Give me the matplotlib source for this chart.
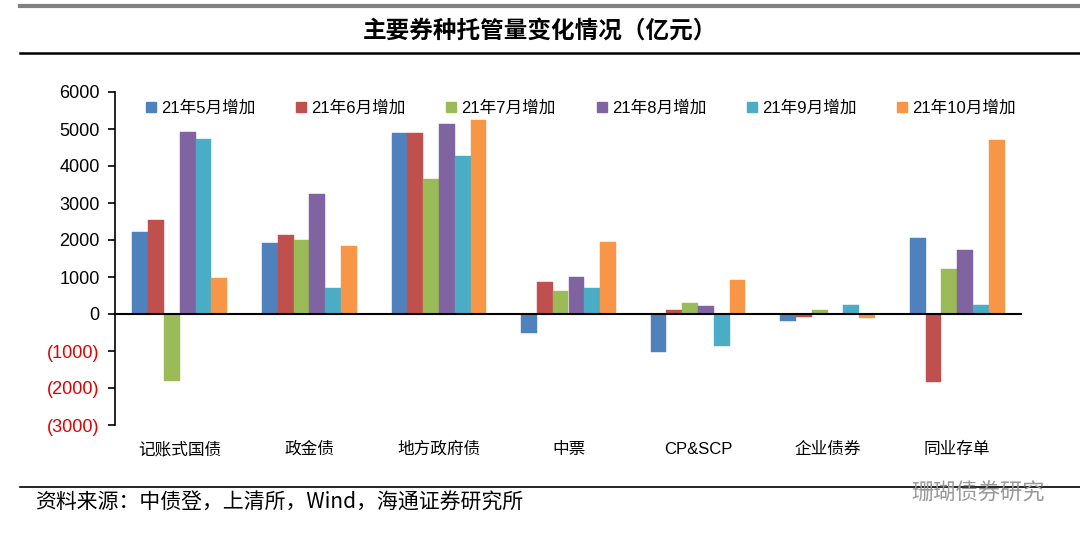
import matplotlib
matplotlib.use("Agg")
import matplotlib.pyplot as plt
from matplotlib.patches import Patch
from matplotlib.lines import Line2D
import numpy as np

plt.rcParams['font.family'] = ['Liberation Sans', 'Noto Sans CJK SC', 'DejaVu Sans']

categories = ["记账式国债", "政金债", "地方政府债", "中票", "CP&SCP", "企业债券", "同业存单"]
series_names = ["21年5月增加", "21年6月增加", "21年7月增加", "21年8月增加", "21年9月增加", "21年10月增加"]
may = [2210, 1920, 4900, -510, -1030, -180, 2050]
jun = [2530, 2140, 4900, 875, 110, -70, -1840]
jul = [-1820, 1990, 3650, 630, 310, 100, 1210]
aug = [4930, 3250, 5130, 1010, 220, 0, 1740]
sep = [4740, 700, 4260, 695, -860, 250, 250]
oct_ = [975, 1850, 5230, 1950, 930, -120, 4710]
series = [may, jun, jul, aug, sep, oct_]
colors = ["#4F81BD", "#C0504D", "#9BBB59", "#8064A2", "#4BACC6", "#F79646"]
yticks = [-3000, -2000, -1000, 0, 1000, 2000, 3000, 4000, 5000, 6000]

title = "主要券种托管量变化情况（亿元）"
source = "资料来源：中债登，上清所，Wind，海通证券研究所"
watermark = "珊瑚债券研究"

fig = plt.figure(figsize=(10.8, 5.42), dpi=100)
ax = fig.add_axes([115/1080, 1-425/542, (1022-115)/1080, (425-92)/542])

x = np.arange(len(categories))
w = 0.122
for i, (vals, c) in enumerate(zip(series, colors)):
    ax.bar(x + (i - 2.5) * w, vals, width=w, color=c, edgecolor=c, linewidth=0.3, zorder=2)

ax.axhline(0, color="black", lw=1.5, zorder=3)
ax.set_xlim(-0.5, len(categories) - 0.5)
ax.set_ylim(-3000, 6000)
ax.set_yticks(yticks)
ax.set_yticklabels([f"({abs(v)})" if v < 0 else f"{v}" for v in yticks], fontsize=13)
for lbl, v in zip(ax.get_yticklabels(), yticks):
    if v < 0:
        lbl.set_color("#E00000")
ax.tick_params(axis="y", direction="out", length=5, width=1.2, pad=6)
ax.set_xticks(x)
ax.set_xticklabels(categories, fontsize=12, family=['Liberation Sans', 'Noto Sans CJK SC'])
ax.tick_params(axis="x", length=0, pad=12)
for s in ["top", "right", "bottom"]:
    ax.spines[s].set_visible(False)
ax.spines["left"].set_linewidth(1.2)

handles = [Patch(facecolor=c, edgecolor=c) for c in colors]
ax.legend(handles, series_names, loc="upper left", bbox_to_anchor=(0.025, 1.0),
          ncol=6, frameon=False, fontsize=12, handlelength=0.6, handleheight=0.6,
          handletextpad=0.3, columnspacing=2.45, borderaxespad=0.1)

# header and footer rules
fig.add_artist(Line2D([20/1080, 1], [1-6/542]*2, color="#808080", lw=3))
fig.add_artist(Line2D([20/1080, 1], [1-53/542]*2, color="black", lw=1.8))
fig.add_artist(Line2D([20/1080, 1], [1-487/542]*2, color="black", lw=1.2))

fig.text(540/1080, 1-31/542, title, ha="center", va="center", fontsize=17,
         fontweight="bold", family=['Noto Sans CJK SC'])
fig.text(35/1080, 1-503/542, source, ha="left", va="center", fontsize=15,
         family=['Noto Sans CJK SC', 'Liberation Sans'])
fig.text(1045/1080, 1-493/542, watermark, ha="right", va="center", fontsize=16,
         color="#9a9a9a", family=['Noto Sans CJK SC'])

fig.savefig("out.png", dpi=100)
